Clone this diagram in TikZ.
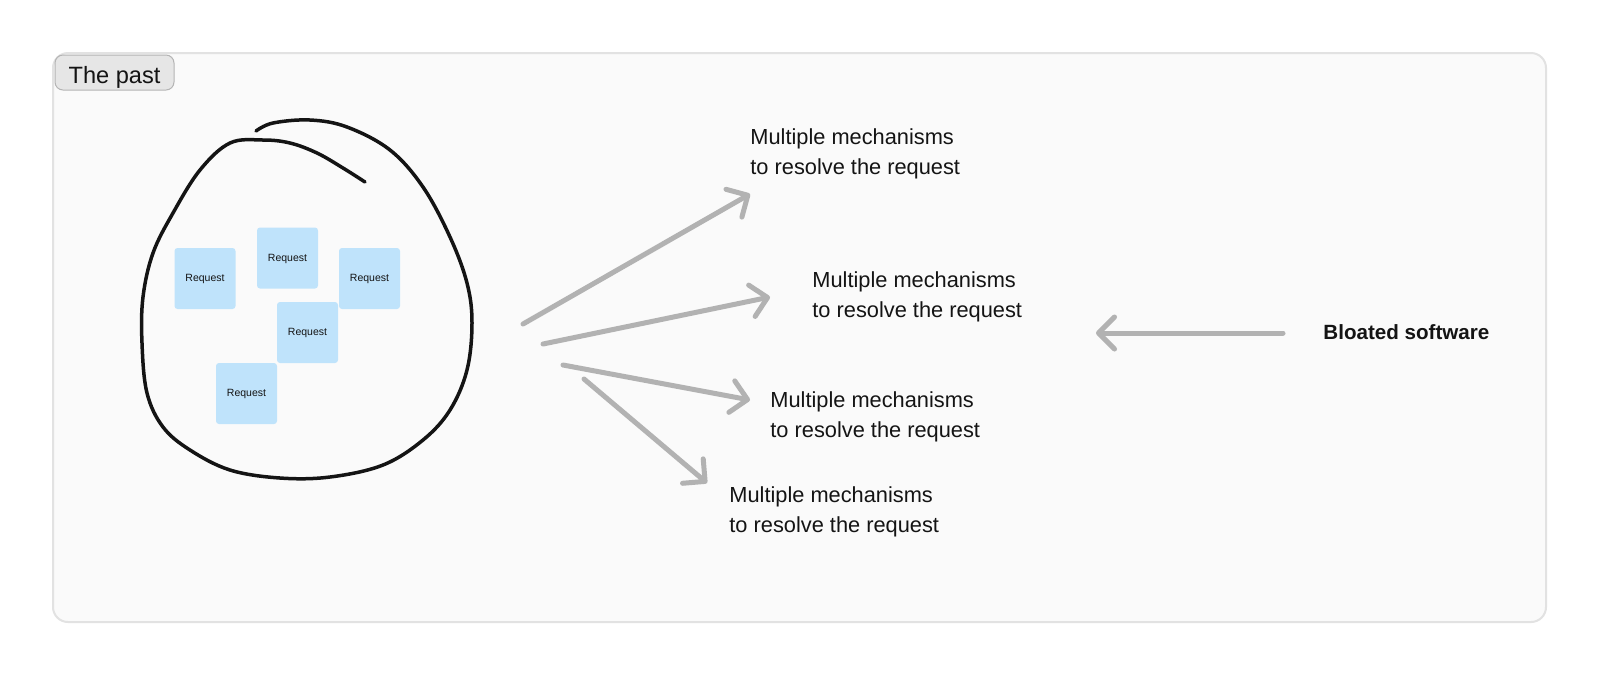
\documentclass[tikz,border=0pt]{standalone}
\usepackage{fontspec}
\setmainfont{Liberation Sans}
\usetikzlibrary{arrows.meta}
\definecolor{framefill}{HTML}{FAFAFA}
\definecolor{framedraw}{HTML}{E2E2E2}
\definecolor{tagfill}{HTML}{E6E6E6}
\definecolor{tagdraw}{HTML}{B4B4B4}
\definecolor{reqfill}{HTML}{BFE3FB}
\definecolor{arrowgray}{HTML}{B2B2B2}
\definecolor{inkblack}{HTML}{141414}
\begin{document}
\begin{tikzpicture}[x=0.5pt,y=-0.5pt,
  frame/.style={draw=framedraw,fill=framefill,line width=1pt,rounded corners=7.5pt},
  tag/.style={draw=tagdraw,fill=tagfill,line width=0.5pt,rounded corners=4pt,minimum width=59.5pt,minimum height=17.5pt,inner sep=0pt,text height=12pt,text depth=1.5pt,font=\fontsize{11.8}{13}\selectfont,text=inkblack},
  reqbox/.style={fill=reqfill,rounded corners=1.5pt,minimum size=30.5pt,inner sep=0pt,text height=4pt,text depth=0.6pt,font=\fontsize{5.25}{6}\selectfont,text=inkblack},
  mech/.style={align=left,inner sep=0pt,font=\fontsize{10.9}{15}\selectfont,text=inkblack},
  bloat/.style={inner sep=0pt,font=\bfseries\fontsize{10.3}{12}\selectfont,text=inkblack},
  grayarrow/.style={draw=arrowgray,line width=2.5pt,line cap=round,-{Straight Barb[length=8pt,width=16pt,round]}},
  blob/.style={draw=inkblack,line width=1.75pt,line cap=round,line join=round}
]
\useasboundingbox[fill=white] (0,0) rectangle (1600,677);
\path[frame] (53,53) rectangle (1546,622);
\node[tag] (past) at (114.5,72.5) {The past};

% hand-drawn loop
\draw[blob] plot[smooth,tension=0.6] coordinates {
 (256,131) (273,123) (310,120) (347,127) (390,150) (423,187) (450,237)
 (467,283) (472,323) (467,370) (450,410) (423,440) (383,465) (330,477)
 (280,478) (230,470) (190,450) (163,427) (147,393) (142,343) (143,297)
 (153,253) (173,213) (200,170) (230,143) (263,140) (290,143) (317,153)
 (343,168) (365,182)};

\node[reqbox] (r1) at (205,278.5) {Request};
\node[reqbox] (r2) at (287.5,258) {Request};
\node[reqbox] (r3) at (369.5,278.5) {Request};
\node[reqbox] (r4) at (307.5,332.5) {Request};
\node[reqbox] (r5) at (246.5,393.5) {Request};

\node[mech,anchor=base west] (m1) at (750,174) {Multiple mechanisms\\to resolve the request};
\node[mech,anchor=base west] (m2) at (812,317) {Multiple mechanisms\\to resolve the request};
\node[mech,anchor=base west] (m3) at (770,437) {Multiple mechanisms\\to resolve the request};
\node[mech,anchor=base west] (m4) at (729,532) {Multiple mechanisms\\to resolve the request};
\node[bloat,anchor=base west] (bs) at (1323,339) {Bloated software};

\coordinate (s1) at (523,324); \coordinate (e1) at (750,194);
\coordinate (s2) at (543,344); \coordinate (e2) at (770,297);
\coordinate (s3) at (563,365); \coordinate (e3) at (750,400);
\coordinate (s4) at (584,379); \coordinate (e4) at (707,483);
\coordinate (s5) at (1283,333); \coordinate (e5) at (1096,333);
\draw[grayarrow] (s1) -- (e1);
\draw[grayarrow] (s2) -- (e2);
\draw[grayarrow] (s3) -- (e3);
\draw[grayarrow] (s4) -- (e4);
\draw[grayarrow] (s5) -- (e5);
\end{tikzpicture}
\end{document}
